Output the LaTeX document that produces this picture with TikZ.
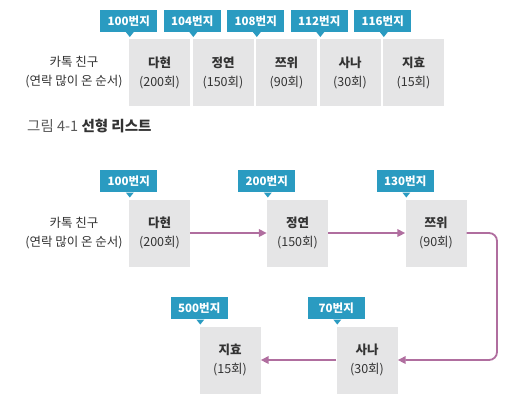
\documentclass[tikz,border=0pt]{standalone}
\usepackage{fontspec}
\setmainfont{Noto Sans CJK KR}
\usetikzlibrary{arrows.meta}
\definecolor{addrcol}{HTML}{2A9BC1}
\definecolor{boxcol}{HTML}{E5E5E6}
\definecolor{arrowcol}{HTML}{B06E9F}
\definecolor{txtcol}{HTML}{333333}
\definecolor{capgray}{HTML}{5A5A5A}
\newcommand{\listitem}[6]{%
  \node[itembox] (#1) at (#2,#3) {\textbf{#4}\\#5};
  \node[addrbox] (#1a) at ([yshift=18pt]#1.north west) {#6};
  \fill[addrcol] ([xshift=-3pt]#1a.south) -- ([xshift=5pt]#1a.south) -- ([xshift=1pt,yshift=-5pt]#1a.south) -- cycle;
}
\begin{document}
\begin{tikzpicture}[x=1pt,y=-1pt,
  itembox/.style={fill=boxcol, minimum width=61pt, minimum height=67pt, inner sep=0pt,
    align=center, text=txtcol, font=\fontsize{12.5}{19}\selectfont},
  addrbox/.style={fill=addrcol, minimum width=57pt, minimum height=22pt, inner sep=0pt,
    text=white, font=\fontsize{11.5}{13}\selectfont\bfseries},
  sidetext/.style={align=center, text=txtcol, font=\fontsize{12.5}{19}\selectfont, inner sep=0pt},
  link/.style={draw=arrowcol, line width=1.8pt, -{Triangle[width=7.5pt,length=8pt]}},
  captext/.style={anchor=west, inner sep=0pt, font=\fontsize{14.5}{16}\selectfont}
]
\useasboundingbox (0,0) rectangle (521,400);
% ---- top: linear list ----
\node[sidetext] (side1) at (74,72.5) {카톡 친구\\(연락 많이 온 순서)};
\listitem{t1}{159.5}{72.5}{다현}{(200회)}{100번지}
\listitem{t2}{223}{72.5}{정연}{(150회)}{104번지}
\listitem{t3}{286.5}{72.5}{쯔위}{(90회)}{108번지}
\listitem{t4}{350}{72.5}{사나}{(30회)}{112번지}
\listitem{t5}{413.5}{72.5}{지효}{(15회)}{116번지}
\node[captext] (cap) at (27,126) {\textcolor{capgray}{그림 4-1} \textcolor{txtcol}{\bfseries 선형 리스트}};
% ---- bottom: linked list ----
\node[sidetext] (side2) at (74,233) {카톡 친구\\(연락 많이 온 순서)};
\listitem{b1}{159.5}{233}{다현}{(200회)}{100번지}
\listitem{b2}{297.5}{233}{정연}{(150회)}{200번지}
\listitem{b3}{436}{233}{쯔위}{(90회)}{130번지}
\listitem{b4}{367}{360}{사나}{(30회)}{70번지}
\listitem{b5}{230}{360}{지효}{(15회)}{500번지}
\coordinate (turn) at (497,233);
\draw[link] (b1.east) -- (b2.west);
\draw[link] (b2.east) -- (b3.west);
\draw[link, rounded corners=8pt] (b3.east) -- (turn) |- (b4.east);
\draw[link] (b4.west) -- (b5.east);
\end{tikzpicture}
\end{document}
